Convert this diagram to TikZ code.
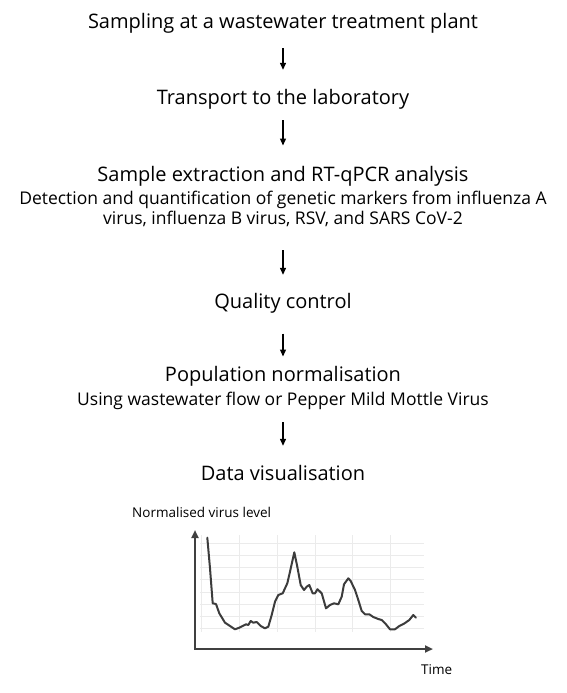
\documentclass[tikz,border=0pt]{standalone}
\usepackage{fontspec}
\setmainfont{Open Sans}
\usetikzlibrary{arrows.meta}
\definecolor{axisgray}{HTML}{404040}
\definecolor{curvegray}{HTML}{3C3C3C}
\definecolor{gridgray}{HTML}{EBEBEB}
\newcommand\stage[4]{\node(#1)[#2] at (283,#3){#4};}

\begin{document}
\begin{tikzpicture}[x=1pt,y=-1pt,
    big/.style={anchor=base,inner sep=0pt,text height=14pt,text depth=0pt,font=\fontsize{20}{24}\selectfont},
    small/.style={big,font=\fontsize{17.5}{21}\selectfont},
    label/.style={anchor=base west,inner sep=0pt,font=\fontsize{13.5}{16}\selectfont},
    flow/.style={-{Triangle[length=7pt,width=6pt]},line width=1.3pt},
    axis/.style={{Triangle[length=8pt,width=7pt]}-{Triangle[length=8pt,width=7pt]},line width=2pt,draw=axisgray},
    gridline/.style={draw=gridgray,line width=0.8pt},
    curve/.style={draw=curvegray,line width=2pt,line join=round,line cap=round}]
    \useasboundingbox (0,0) rectangle (566,693);
    \stage{s1}{big}{28.3}{Sampling at a wastewater treatment plant}
    \stage{s2}{big}{104}{Transport to the laboratory}
    \stage{s3}{big}{181}{Sample extraction and RT-qPCR analysis}
    \stage{d3a}{small}{204.3}{Detection and quantification of genetic markers from influenza A}
    \stage{d3b}{small}{224}{virus, influenza B virus, RSV, and SARS CoV-2}
    \stage{s4}{big}{308.3}{Quality control}
    \stage{s5}{big}{381.7}{Population normalisation}
    \stage{d5}{small}{405}{Using wastewater flow or Pepper Mild Mottle Virus}
    \stage{s6}{big}{480}{Data visualisation}
    \draw[flow,shorten <=20pt,shorten >=20pt] (s1.south) -- (s2.north);
    \draw[flow,shorten <=16pt,shorten >=21.3pt] (s2.south) -- (s3.north);
    \draw[flow,shorten <=26pt,shorten >=19.3pt] (d3b.south) -- (s4.north);
    \draw[flow,shorten <=25pt,shorten >=11pt] (s4.south) -- (s5.north);
    \draw[flow,shorten <=17pt,shorten >=20pt] (d5.south) -- (s6.north);
    \foreach \y in {0,...,7}
        \draw[gridline] (200,{543.3+12.17*\y}) -- (424,{543.3+12.17*\y});
    \foreach \x in {0,...,5}
        \draw[gridline] ({201.7+37.74*\x},535) -- ({201.7+37.74*\x},632);
    \coordinate (ytop) at (195,530);
    \coordinate (origin) at (195,649);
    \coordinate (xend) at (433,649);
    \draw[axis] (ytop) -- (origin) -- (xend);
    \node(ylab)[label] at (132,517){Normalised virus level};
    \node(xlab)[label] at (421,674){Time};
    \draw[curve] plot coordinates {(207.3,537.7) (210,568.3) (212.7,603.3) (216,604) (219.3,613.3) (225,622.7) (230,626) (235,629.3) (239.3,627.7) (243.3,625.7) (246,624.3) (248.3,625) (250.7,621) (253.3,622.7) (256.7,622) (260.7,626) (265,628.3) (268.3,626.7) (271.7,615) (275,601.7) (278.3,595) (282.7,593.3) (287.3,583.3) (290,571.7) (294.3,552.3) (297.3,566.7) (300.7,585) (304,590) (306.7,586.7) (309.3,585) (312.7,593.3) (315,593.3) (317.5,589.2) (321.7,593.3) (326,608.3) (330,605) (334,603.3) (338.3,604.3) (341.7,596.7) (344,584.3) (348.3,578.3) (350.7,581) (355,590) (358.3,600) (361.7,611) (365,614.3) (369.3,614.3) (373.3,617) (378.3,619) (381.7,620) (386,624.3) (390,629.3) (395,629.3) (399.3,626) (404,623.7) (409.3,620) (413.3,615) (416,617.7)};
\end{tikzpicture}
\end{document}
